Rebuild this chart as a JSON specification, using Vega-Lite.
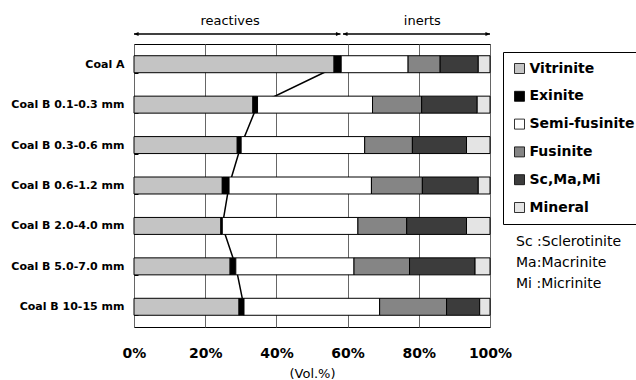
{
  "$schema": "https://vega.github.io/schema/vega-lite/v6.json",
  "padding": {"left": 5, "top": 12, "right": 0, "bottom": 0},
  "autosize": {"type": "pad"},
  "background": "white",
  "config": {
    "font": "DejaVu Sans",
    "legend": {
      "orient": "none",
      "legendX": 369,
      "legendY": 40,
      "title": null,
      "symbolType": "square",
      "symbolSize": 100,
      "symbolStrokeColor": "black",
      "symbolStrokeWidth": 0.8,
      "labelFont": "DejaVu Sans",
      "labelFontSize": 14,
      "labelFontWeight": "bold",
      "labelColor": "black",
      "labelOffset": 3,
      "rowPadding": 13.8,
      "padding": 9.5,
      "strokeColor": "black",
      "fillColor": "white"
    }
  },
  "datasets": {
    "composition": [
      {"coal": "Coal A", "component": "Vitrinite", "value": 56.2},
      {"coal": "Coal A", "component": "Exinite", "value": 2.0},
      {"coal": "Coal A", "component": "Semi-fusinite", "value": 18.8},
      {"coal": "Coal A", "component": "Fusinite", "value": 9.0},
      {"coal": "Coal A", "component": "Sc,Ma,Mi", "value": 10.7},
      {"coal": "Coal A", "component": "Mineral", "value": 3.3},
      {"coal": "Coal B 0.1-0.3 mm", "component": "Vitrinite", "value": 33.4},
      {"coal": "Coal B 0.1-0.3 mm", "component": "Exinite", "value": 1.3},
      {"coal": "Coal B 0.1-0.3 mm", "component": "Semi-fusinite", "value": 32.3},
      {"coal": "Coal B 0.1-0.3 mm", "component": "Fusinite", "value": 13.8},
      {"coal": "Coal B 0.1-0.3 mm", "component": "Sc,Ma,Mi", "value": 15.6},
      {"coal": "Coal B 0.1-0.3 mm", "component": "Mineral", "value": 3.6},
      {"coal": "Coal B 0.3-0.6 mm", "component": "Vitrinite", "value": 29.0},
      {"coal": "Coal B 0.3-0.6 mm", "component": "Exinite", "value": 1.1},
      {"coal": "Coal B 0.3-0.6 mm", "component": "Semi-fusinite", "value": 34.7},
      {"coal": "Coal B 0.3-0.6 mm", "component": "Fusinite", "value": 13.4},
      {"coal": "Coal B 0.3-0.6 mm", "component": "Sc,Ma,Mi", "value": 15.2},
      {"coal": "Coal B 0.3-0.6 mm", "component": "Mineral", "value": 6.6},
      {"coal": "Coal B 0.6-1.2 mm", "component": "Vitrinite", "value": 24.8},
      {"coal": "Coal B 0.6-1.2 mm", "component": "Exinite", "value": 1.9},
      {"coal": "Coal B 0.6-1.2 mm", "component": "Semi-fusinite", "value": 40.0},
      {"coal": "Coal B 0.6-1.2 mm", "component": "Fusinite", "value": 14.3},
      {"coal": "Coal B 0.6-1.2 mm", "component": "Sc,Ma,Mi", "value": 15.7},
      {"coal": "Coal B 0.6-1.2 mm", "component": "Mineral", "value": 3.3},
      {"coal": "Coal B 2.0-4.0 mm", "component": "Vitrinite", "value": 24.4},
      {"coal": "Coal B 2.0-4.0 mm", "component": "Exinite", "value": 0.4},
      {"coal": "Coal B 2.0-4.0 mm", "component": "Semi-fusinite", "value": 38.1},
      {"coal": "Coal B 2.0-4.0 mm", "component": "Fusinite", "value": 13.7},
      {"coal": "Coal B 2.0-4.0 mm", "component": "Sc,Ma,Mi", "value": 16.8},
      {"coal": "Coal B 2.0-4.0 mm", "component": "Mineral", "value": 6.6},
      {"coal": "Coal B 5.0-7.0 mm", "component": "Vitrinite", "value": 27.0},
      {"coal": "Coal B 5.0-7.0 mm", "component": "Exinite", "value": 1.6},
      {"coal": "Coal B 5.0-7.0 mm", "component": "Semi-fusinite", "value": 33.2},
      {"coal": "Coal B 5.0-7.0 mm", "component": "Fusinite", "value": 15.6},
      {"coal": "Coal B 5.0-7.0 mm", "component": "Sc,Ma,Mi", "value": 18.4},
      {"coal": "Coal B 5.0-7.0 mm", "component": "Mineral", "value": 4.2},
      {"coal": "Coal B 10-15 mm", "component": "Vitrinite", "value": 29.5},
      {"coal": "Coal B 10-15 mm", "component": "Exinite", "value": 1.4},
      {"coal": "Coal B 10-15 mm", "component": "Semi-fusinite", "value": 38.1},
      {"coal": "Coal B 10-15 mm", "component": "Fusinite", "value": 18.8},
      {"coal": "Coal B 10-15 mm", "component": "Sc,Ma,Mi", "value": 9.3},
      {"coal": "Coal B 10-15 mm", "component": "Mineral", "value": 2.9}
    ],
    "arrows": [
      {"label": "reactives", "start": 0, "end": 58, "labelAt": 27},
      {"label": "inerts", "start": 58.7, "end": 100, "labelAt": 81}
    ],
    "notes": [
      {"note": "Sc :Sclerotinite"},
      {"note": "Ma:Macrinite"},
      {"note": "Mi :Micrinite"}
    ]
  },
  "spacing": 0,
  "vconcat": [
    {
      "width": 356,
      "height": 22,
      "view": {"stroke": null},
      "data": {"name": "arrows"},
      "layer": [
        {
          "mark": {"type": "rule", "color": "black", "strokeWidth": 1.3},
          "encoding": {
            "x": {"field": "start", "type": "quantitative", "scale": {"domain": [0, 100], "nice": false}, "axis": null},
            "x2": {"field": "end"},
            "y": {"datum": 0, "type": "quantitative", "scale": {"domain": [0, 1]},
                  "axis": {"labels": false, "ticks": false, "domain": false, "grid": false, "title": null, "minExtent": 128, "maxExtent": 128}}
          }
        },
        {
          "mark": {"type": "point", "shape": "M0,0L1.3,-0.6L1.3,0.6Z", "filled": true, "color": "black", "size": 49, "opacity": 1},
          "encoding": {
            "x": {"field": "start", "type": "quantitative"},
            "y": {"datum": 0, "type": "quantitative"}
          }
        },
        {
          "mark": {"type": "point", "shape": "M0,0L-1.3,-0.6L-1.3,0.6Z", "filled": true, "color": "black", "size": 49, "opacity": 1},
          "encoding": {
            "x": {"field": "end", "type": "quantitative"},
            "y": {"datum": 0, "type": "quantitative"}
          }
        },
        {
          "mark": {"type": "text", "baseline": "middle", "fontSize": 13, "color": "black", "font": "DejaVu Sans"},
          "encoding": {
            "x": {"field": "labelAt", "type": "quantitative"},
            "y": {"datum": 0.6, "type": "quantitative"},
            "text": {"field": "label"}
          }
        }
      ]
    },
    {
      "spacing": 26,
      "bounds": "flush",
      "hconcat": [
        {
          "width": 356,
          "height": 283,
          "view": {"stroke": "black", "strokeWidth": 1},
          "data": {"name": "composition"},
          "transform": [
            {"calculate": "indexof(['Vitrinite', 'Exinite', 'Semi-fusinite', 'Fusinite', 'Sc,Ma,Mi', 'Mineral'], datum.component)", "as": "stackOrder"}
          ],
          "encoding": {
            "y": {
              "field": "coal",
              "type": "nominal",
              "sort": ["Coal A", "Coal B 0.1-0.3 mm", "Coal B 0.3-0.6 mm", "Coal B 0.6-1.2 mm", "Coal B 2.0-4.0 mm", "Coal B 5.0-7.0 mm", "Coal B 10-15 mm"],
              "scale": {"paddingInner": 0.58, "paddingOuter": 0.29},
              "axis": {
                "title": null,
                "domain": false,
                "labelFont": "DejaVu Sans",
                "labelFontWeight": "bold",
                "labelFontSize": 11,
                "labelColor": "black",
                "tickBand": "extent",
                "tickColor": "black",
                "tickSize": -4,
                "labelPadding": 14,
                "minExtent": 128,
                "maxExtent": 128
              }
            }
          },
          "layer": [
            {
              "transform": [{"filter": {"field": "component", "oneOf": ["Vitrinite", "Exinite"]}}],
              "mark": {"type": "line", "color": "black", "strokeWidth": 1.5},
              "encoding": {
                "x": {"aggregate": "sum", "field": "value", "type": "quantitative"}
              }
            },
            {
              "mark": {"type": "bar", "stroke": "black", "strokeWidth": 1},
              "encoding": {
                "x": {
                  "field": "value",
                  "type": "quantitative",
                  "stack": "zero",
                  "scale": {"domain": [0, 100], "nice": false},
                  "axis": {
                    "values": [0, 20, 40, 60, 80, 100],
                    "labelExpr": "datum.value + '%'",
                    "labelFlush": false,
                    "grid": true,
                    "gridColor": "#666666",
                    "gridOpacity": 1,
                    "ticks": false,
                    "tickSize": 0,
                    "domain": false,
                    "labelFont": "DejaVu Sans",
                    "labelFontWeight": "bold",
                    "labelFontSize": 14,
                    "labelColor": "black",
                    "labelPadding": 19,
                    "title": "(Vol.%)",
                    "titleFont": "DejaVu Sans",
                    "titleFontWeight": "normal",
                    "titleFontSize": 13,
                    "titleColor": "black",
                    "titlePadding": 7
                  }
                },
                "order": {"field": "stackOrder", "type": "quantitative", "sort": "ascending"},
                "color": {
                  "field": "component",
                  "type": "nominal",
                  "sort": ["Vitrinite", "Exinite", "Semi-fusinite", "Fusinite", "Sc,Ma,Mi", "Mineral"],
                  "scale": {
                    "domain": ["Vitrinite", "Exinite", "Semi-fusinite", "Fusinite", "Sc,Ma,Mi", "Mineral"],
                    "range": ["#c4c4c4", "#000000", "#ffffff", "#858585", "#3c3c3c", "#e4e4e4"]
                  }
                }
              }
            }
          ]
        },
        {
          "width": 110,
          "height": 283,
          "view": {"stroke": null},
          "data": {"name": "notes"},
          "mark": {"type": "text", "align": "left", "baseline": "middle", "fontSize": 14, "font": "DejaVu Sans", "color": "black"},
          "encoding": {
            "x": {"value": 0},
            "y": {"field": "note", "type": "ordinal", "sort": null, "scale": {"type": "point", "range": [198, 240], "padding": 0}, "axis": null},
            "text": {"field": "note"}
          }
        }
      ]
    }
  ]
}
